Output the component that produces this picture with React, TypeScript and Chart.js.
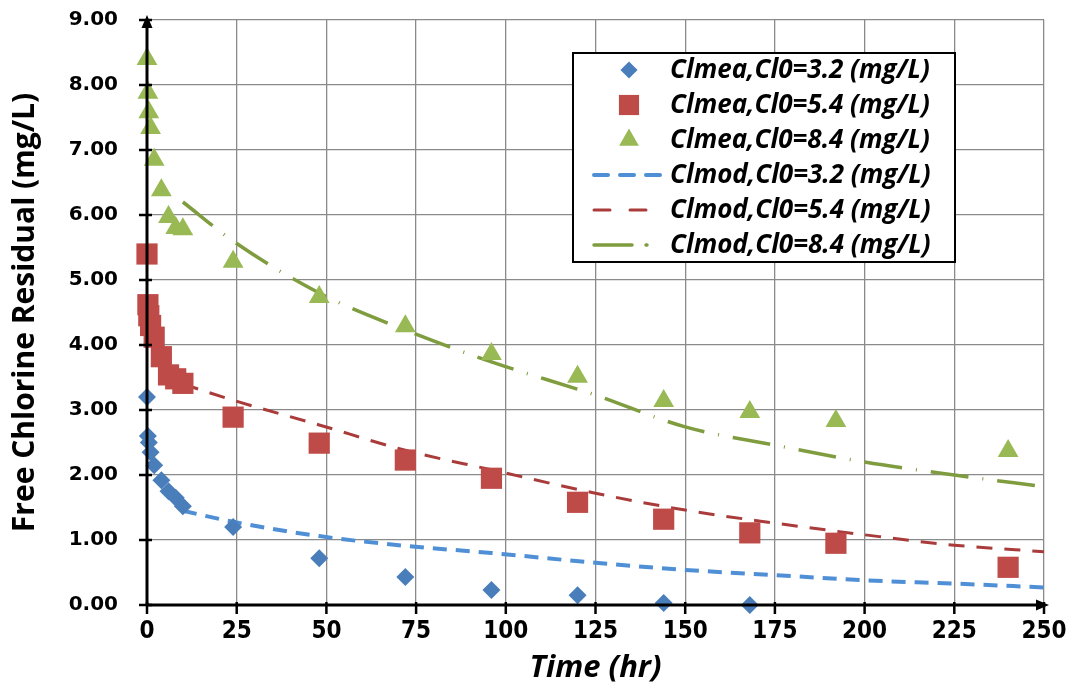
import React, { useEffect, useRef } from "react";
import { Chart, registerables } from "chart.js";
Chart.register(...registerables);

// Measured data
const timeMea3 = [0, 0.25, 0.5, 1, 2, 4, 6, 8, 10, 24, 48, 72, 96, 120, 144, 168];
const clMea3 = [3.2, 2.6, 2.5, 2.35, 2.15, 1.92, 1.75, 1.65, 1.52, 1.2, 0.72, 0.43, 0.23, 0.15, 0.03, 0.0];
const timeMea = [0, 0.25, 0.5, 1, 2, 4, 6, 8, 10, 24, 48, 72, 96, 120, 144, 168, 192, 240];
const clMea54 = [5.4, 4.62, 4.45, 4.3, 4.12, 3.82, 3.54, 3.48, 3.41, 2.89, 2.49, 2.23, 1.95, 1.58, 1.32, 1.11, 0.95, 0.58];
const clMea84 = [8.4, 7.88, 7.58, 7.34, 6.85, 6.38, 5.97, 5.8, 5.78, 5.28, 4.74, 4.29, 3.86, 3.51, 3.14, 2.97, 2.83, 2.37];

// Model data
const timeMod = [10, 24, 48, 72, 96, 125, 150, 175, 200, 225, 250];
const clMod32 = [1.45, 1.28, 1.06, 0.91, 0.8, 0.65, 0.54, 0.46, 0.38, 0.33, 0.27];
const clMod54 = [3.4, 3.15, 2.77, 2.38, 2.08, 1.72, 1.46, 1.26, 1.08, 0.92, 0.82];
const clMod84 = [6.2, 5.6, 4.8, 4.23, 3.74, 3.23, 2.74, 2.46, 2.2, 2.0, 1.82];

const labels = [
  "Clmea,Cl0=3.2 (mg/L)",
  "Clmea,Cl0=5.4 (mg/L)",
  "Clmea,Cl0=8.4 (mg/L)",
  "Clmod,Cl0=3.2 (mg/L)",
  "Clmod,Cl0=5.4 (mg/L)",
  "Clmod,Cl0=8.4 (mg/L)",
];

const xTickStep = 25;
const yTickStep = 1;

const pts = (xs: number[], ys: number[]) => xs.map((x, i) => ({ x, y: ys[i] }));

const BLUE = "#4a7ebb";
const RED = "#be4b48";
const GREEN = "#98b954";
const BLUE_L = "#4f8fd6";
const RED_L = "#a93c3a";
const GREEN_L = "#7f9d3f";

function drawMarker(ctx: CanvasRenderingContext2D, style: string, x: number, y: number, r: number) {
  ctx.beginPath();
  if (style === "rectRot") {
    ctx.moveTo(x, y - r);
    ctx.lineTo(x + r, y);
    ctx.lineTo(x, y + r);
    ctx.lineTo(x - r, y);
  } else if (style === "rect") {
    const s = r * Math.SQRT1_2;
    ctx.rect(x - s, y - s, 2 * s, 2 * s);
  } else {
    const h = r * 1.5;
    const w = r * Math.sqrt(3);
    ctx.moveTo(x, y - r);
    ctx.lineTo(x + w / 2, y - r + h);
    ctx.lineTo(x - w / 2, y - r + h);
  }
  ctx.closePath();
  ctx.fill();
}

const overlayPlugin = {
  id: "overlay",
  afterDatasetsDraw(chart: any) {
    const { ctx, chartArea } = chart;
    const { left: L, right: R, top: T, bottom: B } = chartArea;
    const xs = chart.scales.x;
    const ys = chart.scales.y;
    ctx.save();
    // axes
    ctx.strokeStyle = "#000";
    ctx.fillStyle = "#000";
    ctx.lineWidth = 3;
    ctx.beginPath();
    ctx.moveTo(L, B);
    ctx.lineTo(L, T + 4);
    ctx.moveTo(L, B);
    ctx.lineTo(R - 4, B);
    ctx.stroke();
    // arrows
    ctx.beginPath();
    ctx.moveTo(L, T - 5);
    ctx.lineTo(L + 5.5, T + 8);
    ctx.lineTo(L - 5.5, T + 8);
    ctx.closePath();
    ctx.fill();
    ctx.beginPath();
    ctx.moveTo(R + 5, B);
    ctx.lineTo(R - 8, B - 5.5);
    ctx.lineTo(R - 8, B + 5.5);
    ctx.closePath();
    ctx.fill();
    // ticks
    ctx.lineWidth = 2.5;
    ctx.beginPath();
    for (let v = ys.min; v <= ys.max + 1e-9; v += yTickStep) {
      const py = ys.getPixelForValue(v);
      ctx.moveTo(L - 8, py);
      ctx.lineTo(L + 5, py);
    }
    for (let v = xs.min; v <= xs.max + 1e-9; v += xTickStep) {
      const px = xs.getPixelForValue(v);
      ctx.moveTo(px, B - 3);
      ctx.lineTo(px, B + 9);
    }
    ctx.stroke();

    // legend
    const bx = 573, by = 53, bw = 382, bh = 209;
    ctx.fillStyle = "#fff";
    ctx.fillRect(bx, by, bw, bh);
    ctx.lineWidth = 2;
    ctx.strokeStyle = "#000";
    ctx.strokeRect(bx, by, bw, bh);
    chart.data.datasets.forEach((ds: any, i: number) => {
      const cy = by + 17 + i * 35;
      if (ds.showLine === false) {
        ctx.fillStyle = ds.backgroundColor;
        drawMarker(ctx, ds.pointStyle, 629, cy, ds.pointRadius * 0.95);
      } else {
        ctx.strokeStyle = ds.borderColor;
        ctx.lineWidth = ds.borderWidth;
        ctx.lineCap = "round";
        ctx.setLineDash(ds.legendDash || ds.borderDash || []);
        ctx.beginPath();
        ctx.moveTo(594, cy);
        ctx.lineTo(660, cy);
        ctx.stroke();
        ctx.setLineDash([]);
        ctx.lineCap = "butt";
      }
      ctx.fillStyle = "#000";
      ctx.font = "italic bold 26px 'Open Sans', sans-serif";
      ctx.textBaseline = "middle";
      ctx.textAlign = "left";
      ctx.fillText(ds.label, 670, cy + 1);
    });
    ctx.restore();
  },
};

export default function App() {
  const ref = useRef<HTMLCanvasElement>(null);
  useEffect(() => {
    const chart = new Chart(ref.current as HTMLCanvasElement, {
      type: "scatter",
      data: {
        datasets: [
          { label: labels[0], data: pts(timeMea3, clMea3), showLine: false, pointStyle: "rectRot", pointRadius: 9, backgroundColor: BLUE, borderColor: BLUE, borderWidth: 0, clip: false },
          { label: labels[1], data: pts(timeMea, clMea54), showLine: false, pointStyle: "rect", pointRadius: 15, backgroundColor: RED, borderColor: RED, borderWidth: 0, clip: false },
          { label: labels[2], data: pts(timeMea, clMea84), showLine: false, pointStyle: "triangle", pointRadius: 12, backgroundColor: GREEN, borderColor: GREEN, borderWidth: 0, clip: false },
          { label: labels[3], data: pts(timeMod, clMod32), showLine: true, pointRadius: 0, borderColor: BLUE_L, backgroundColor: BLUE_L, borderWidth: 4, borderDash: [14, 9], legendDash: [14, 12], tension: 0.4, cubicInterpolationMode: "monotone", clip: false },
          { label: labels[4], data: pts(timeMod, clMod54), showLine: true, pointRadius: 0, borderColor: RED_L, backgroundColor: RED_L, borderWidth: 3, borderDash: [16, 12], legendDash: [16, 20], tension: 0.4, cubicInterpolationMode: "monotone", clip: false },
          { label: labels[5], data: pts(timeMod, clMod84), showLine: true, pointRadius: 0, borderColor: GREEN_L, backgroundColor: GREEN_L, borderWidth: 3.5, borderDash: [38, 14, 1, 14], legendDash: [38, 14, 1, 14], tension: 0.4, cubicInterpolationMode: "monotone", clip: false },
        ] as any,
      },
      options: {
        responsive: false,
        animation: false,
        layout: { padding: { top: 20, right: 31, left: 0, bottom: 0 } },
        plugins: { legend: { display: false }, tooltip: { enabled: false } },
        scales: {
          x: {
            type: "linear",
            min: 0,
            max: 250,
            border: { display: false },
            grid: { color: "#8a8a8a", lineWidth: 1.3, drawTicks: false, tickLength: 0 },
            ticks: {
              stepSize: xTickStep,
              color: "#000",
              padding: 12,
              font: { family: "'Liberation Sans Narrow', 'DejaVu Sans Condensed', 'Open Sans', sans-serif", size: 24, weight: "bold" },
            },
            title: {
              display: true,
              text: "Time (hr)",
              color: "#000",
              padding: { top: 0, bottom: 6 },
              font: { family: "'Open Sans', sans-serif", size: 31, weight: "bold", style: "italic" },
            },
            afterFit: (s: any) => { s.height = 88; s.paddingLeft = 0; s.paddingRight = 0; },
          },
          y: {
            type: "linear",
            min: 0,
            max: 9,
            border: { display: false },
            grid: { color: "#8a8a8a", lineWidth: 1.3, drawTicks: false, tickLength: 0 },
            ticks: {
              stepSize: yTickStep,
              color: "#000",
              padding: 29,
              callback: (v: any) => Number(v).toFixed(2),
              font: { family: "'DejaVu Sans', sans-serif", size: 20, weight: "bold" },
            },
            title: {
              display: true,
              text: "Free Chlorine Residual (mg/L)",
              color: "#000",
              padding: { top: 7, bottom: 0 },
              font: { family: "'Open Sans', sans-serif", size: 30, weight: "bold" },
            },
            afterFit: (s: any) => { s.width = 147; s.paddingTop = 0; s.paddingBottom = 0; },
          },
        },
      } as any,
      plugins: [overlayPlugin],
    });
    return () => chart.destroy();
  }, []);
  return (
    <div style={{ position: "fixed", left: 0, top: 0, width: 1075, height: 693, background: "#fff" }}>
      <canvas ref={ref} width={1075} height={693} style={{ width: 1075, height: 693, display: "block" }} />
    </div>
  );
}
